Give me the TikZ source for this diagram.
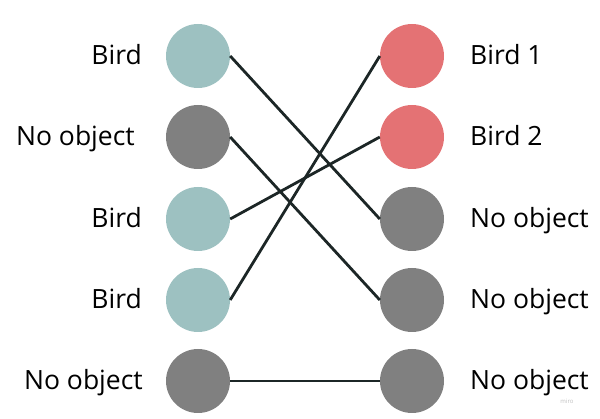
\documentclass[tikz,border=0pt]{standalone}
\usepackage{fontspec}
\setmainfont{Open Sans}
\usepackage{tikz}
\usetikzlibrary{positioning}

\definecolor{birdteal}{RGB}{157,193,193}
\definecolor{birdred}{RGB}{228,114,116}
\definecolor{noobj}{RGB}{128,128,128}
\definecolor{linkcol}{RGB}{28,38,38}

\begin{document}
\begin{tikzpicture}[x=1pt,y=-1pt,
	dot/.style={circle,minimum size=64pt,inner sep=0pt},
	lbl/.style={font=\fontsize{26.5}{31}\selectfont,inner sep=0pt},
	link/.style={draw=linkcol,line width=2.8pt}]
	  \useasboundingbox (0,0) rectangle (600,419);
	  % left column
	  \node (L1) [dot,fill=birdteal] at (198,56) {};
	  \node (L2) [dot,fill=noobj] at (198,137) {};
	  \node (L3) [dot,fill=birdteal] at (198,219) {};
	  \node (L4) [dot,fill=birdteal] at (198,300) {};
	  \node (L5) [dot,fill=noobj] at (198,381) {};
	  \node (LT1) [lbl,anchor=base east] at (142,65) {Bird};
	  \node (LT2) [lbl,anchor=base east] at (135,146) {No object};
	  \node (LT3) [lbl,anchor=base east] at (142,228) {Bird};
	  \node (LT4) [lbl,anchor=base east] at (142,309) {Bird};
	  \node (LT5) [lbl,anchor=base east] at (143,390) {No object};
	  % right column
	  \node (R1) [dot,fill=birdred] at (412,56) {};
	  \node (R2) [dot,fill=birdred] at (412,137) {};
	  \node (R3) [dot,fill=noobj] at (412,219) {};
	  \node (R4) [dot,fill=noobj] at (412,300) {};
	  \node (R5) [dot,fill=noobj] at (412,381) {};
	  \node (RT1) [lbl,anchor=base west] at (470,65) {Bird 1};
	  \node (RT2) [lbl,anchor=base west] at (470,146) {Bird 2};
	  \node (RT3) [lbl,anchor=base west] at (470,228) {No object};
	  \node (RT4) [lbl,anchor=base west] at (470,309) {No object};
	  \node (RT5) [lbl,anchor=base west] at (470,390) {No object};
	  \node (mark) [font=\fontsize{6}{7}\selectfont,text=black!25,inner sep=0pt] at (567,401) {miro};
	  % matching
	  \draw[link] (L1.east) -- (R3.west);
	  \draw[link] (L2.east) -- (R4.west);
	  \draw[link] (L3.east) -- (R2.west);
	  \draw[link] (L4.east) -- (R1.west);
	  \draw[link] (L5.east) -- (R5.west);
	\end{tikzpicture}
\end{document}
